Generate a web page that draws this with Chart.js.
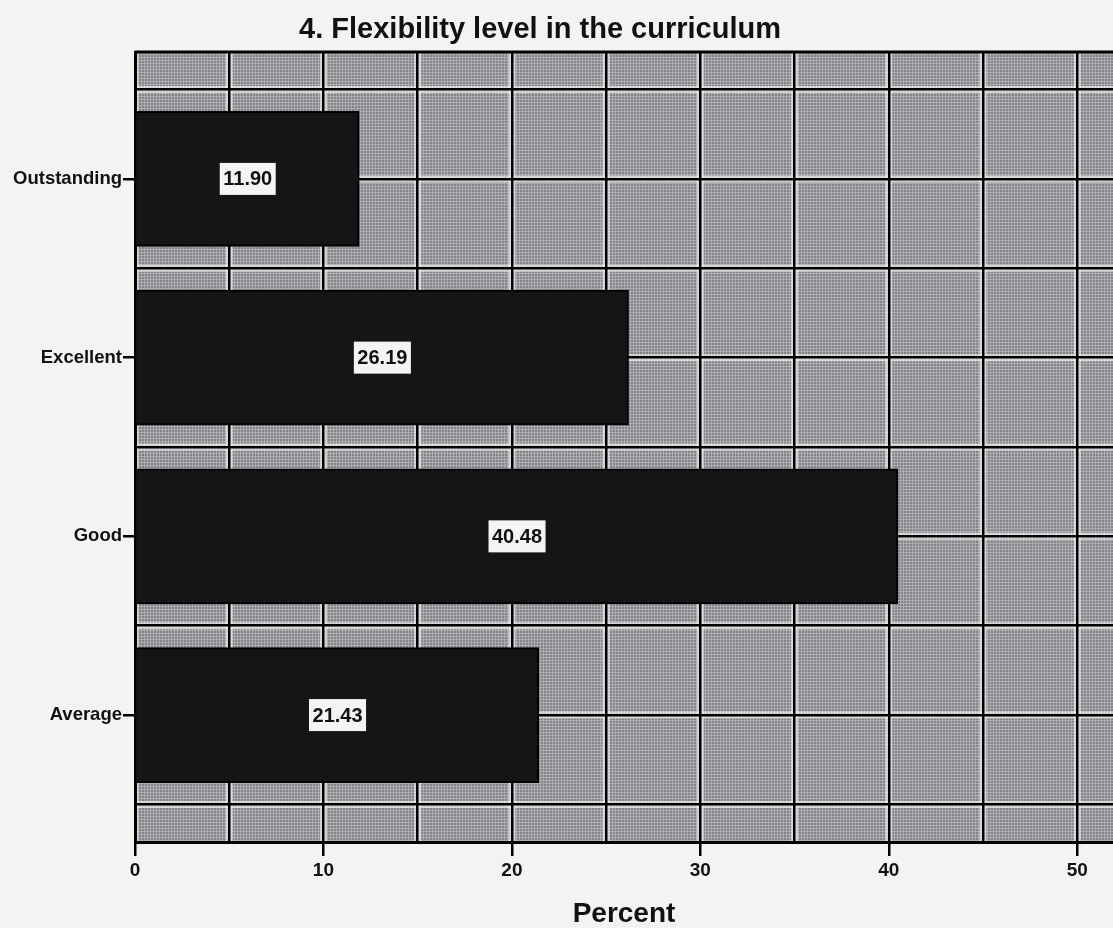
<!DOCTYPE html>
<html>
<head>
<meta charset="utf-8">
<title>Flexibility level in the curriculum</title>
<script src="https://cdn.jsdelivr.net/npm/chart.js@4.4.1/dist/chart.umd.min.js"></script>
<style>
    html, body { margin: 0; padding: 0; background: #f3f3f1; }
    #wrap { width: 1113px; height: 928px; }
</style>
</head>
<body>
<div id="wrap"><canvas id="myChart" width="1113" height="928"></canvas></div>
<script>
var chartTitle = '4. Flexibility level in the curriculum';
var axisTitle = 'Percent';
var categories = ['Outstanding', 'Excellent', 'Good', 'Average'];
var percents = [11.90, 26.19, 40.48, 21.43];
var xLabels = [0, 10, 20, 30, 40, 50];

var FONT = 'Arial, "Liberation Sans", sans-serif';

// small tile for the screened grey behind the bars
var tile = document.createElement('canvas');
tile.width = 3;
tile.height = 3;
var t = tile.getContext('2d');
t.fillStyle = '#818388';
t.fillRect(0, 0, 3, 3);
t.fillStyle = '#abadb1';
t.fillRect(0, 0, 3, 1);
t.fillRect(0, 0, 1, 3);

// y positions: one slot per category, grid every half slot
var halfSteps = [];
for (var i = 0; i <= categories.length * 2; i++) {
    halfSteps.push(i / 2 - 0.5);
}

var plotBackground = {
    id: 'plotBackground',
    beforeDraw: function (chart) {
        var ctx = chart.ctx;
        var a = chart.chartArea;
        ctx.save();
        ctx.beginPath();
        ctx.rect(a.left, a.top, a.right - a.left, a.bottom - a.top);
        ctx.clip();
        ctx.fillStyle = ctx.createPattern(tile, 'repeat');
        ctx.fillRect(a.left, a.top, a.right - a.left, a.bottom - a.top);

        // pale seam on both sides of each grid line
        ctx.strokeStyle = 'rgba(236,236,234,0.7)';
        ctx.lineWidth = 7;
        chart.scales.x.ticks.forEach(function (tk) {
            var px = chart.scales.x.getPixelForValue(tk.value);
            ctx.beginPath();
            ctx.moveTo(px, a.top);
            ctx.lineTo(px, a.bottom);
            ctx.stroke();
        });
        chart.scales.y.ticks.forEach(function (tk) {
            var py = chart.scales.y.getPixelForValue(tk.value);
            ctx.beginPath();
            ctx.moveTo(a.left, py);
            ctx.lineTo(a.right, py);
            ctx.stroke();
        });
        ctx.restore();
    },
    afterDatasetsDraw: function (chart) {
        var ctx = chart.ctx;
        var a = chart.chartArea;
        ctx.save();
        // top frame line
        ctx.strokeStyle = '#000';
        ctx.lineWidth = 3;
        ctx.beginPath();
        ctx.moveTo(a.left, a.top);
        ctx.lineTo(a.right, a.top);
        ctx.stroke();

        // value boxes in the middle of each bar
        ctx.font = 'bold 20px ' + FONT;
        ctx.textAlign = 'center';
        ctx.textBaseline = 'middle';
        chart.getDatasetMeta(0).data.forEach(function (bar, i) {
            var txt = percents[i].toFixed(2);
            var cx = (bar.x + bar.base) / 2;
            var w = ctx.measureText(txt).width + 7;
            var h = 32;
            ctx.fillStyle = '#f4f4f2';
            ctx.fillRect(cx - w / 2, bar.y - h / 2, w, h);
            ctx.fillStyle = '#111';
            ctx.fillText(txt, cx, bar.y + 1);
        });

        // heading
        ctx.font = 'bold 29px ' + FONT;
        ctx.fillStyle = '#111';
        ctx.fillText(chartTitle, 540, 30);
        ctx.restore();
    }
};

var ctx = document.getElementById('myChart');

new Chart(ctx, {
    type: 'bar',
    data: {
        datasets: [{
            data: categories.map(function (c, i) { return { x: percents[i], y: i }; }),
            backgroundColor: '#151518',
            borderColor: '#000',
            borderWidth: 2,
            barThickness: 135
        }]
    },
    options: {
        indexAxis: 'y',
        responsive: false,
        animation: false,
        layout: { padding: { top: 52, right: 0, bottom: 0, left: 0 } },
        plugins: {
            legend: { display: false },
            tooltip: { enabled: false },
            title: { display: false }
        },
        scales: {
            x: {
                type: 'linear',
                position: 'bottom',
                min: 0,
                max: 51.9,
                ticks: {
                    stepSize: 5,
                    includeBounds: false,
                    autoSkip: false,
                    maxRotation: 0,
                    padding: 3,
                    color: '#111',
                    font: { family: FONT, size: 19, weight: 'bold' },
                    callback: function (v) {
                        return xLabels.indexOf(v) >= 0 ? String(v) : '';
                    }
                },
                grid: {
                    color: '#000',
                    lineWidth: 2.5,
                    tickLength: 14,
                    tickWidth: 2.5,
                    tickColor: function (c) {
                        return c.tick && c.tick.value % 10 === 0 ? '#000' : 'rgba(0,0,0,0)';
                    }
                },
                border: { display: true, color: '#000', width: 3 },
                title: {
                    display: true,
                    text: axisTitle,
                    color: '#111',
                    padding: { top: 0, bottom: 0 },
                    font: { family: FONT, size: 28, weight: 'bold', lineHeight: 1 }
                },
                afterFit: function (scale) { scale.height = 86; }
            },
            y: {
                type: 'linear',
                reverse: true,
                offset: false,
                bounds: 'data',
                min: -0.71,
                max: categories.length - 0.29,
                afterBuildTicks: function (scale) {
                    scale.ticks = halfSteps.map(function (v) { return { value: v }; });
                },
                ticks: {
                    autoSkip: false,
                    padding: 1,
                    color: '#111',
                    font: { family: FONT, size: 18.5, weight: 'bold' },
                    callback: function (v) {
                        return Number.isInteger(v) ? categories[v] : '';
                    }
                },
                grid: {
                    offset: false,
                    color: '#000',
                    lineWidth: 2.5,
                    tickLength: 12,
                    tickWidth: 2.5,
                    tickColor: function (c) {
                        return c.tick && Number.isInteger(c.tick.value) ? '#000' : 'rgba(0,0,0,0)';
                    }
                },
                border: { display: true, color: '#000', width: 3 },
                afterFit: function (scale) { scale.width = 135; }
            }
        }
    },
    plugins: [plotBackground]
});
</script>
</body>
</html>
